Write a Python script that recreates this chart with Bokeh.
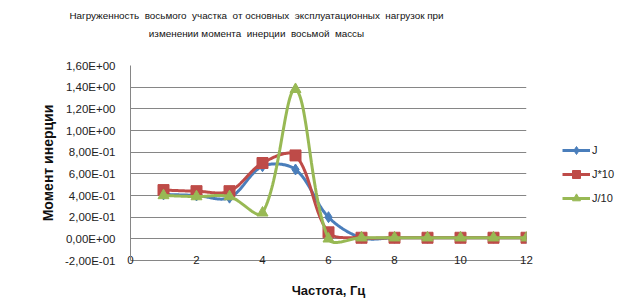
import numpy as np
from bokeh.plotting import figure
from bokeh.layouts import column, row
from bokeh.models import (Range1d, FixedTicker, CustomJSTickFormatter, Label, Legend, LegendItem)
from bokeh.embed import file_html
from bokeh.resources import INLINE

# ---- data ----
freq = [1, 2, 3, 4, 5, 6, 7, 8, 9, 10, 11, 12]
j_vals = [0.41, 0.40, 0.38, 0.67, 0.64, 0.20, 0.01, 0.01, 0.01, 0.01, 0.01, 0.01]
j10_vals = [0.45, 0.44, 0.44, 0.70, 0.77, 0.06, 0.01, 0.01, 0.01, 0.01, 0.01, 0.01]
jdiv10_vals = [0.40, 0.39, 0.39, 0.24, 1.38, 0.00, 0.01, 0.01, 0.01, 0.01, 0.01, 0.01]
series_names = ["J", "J*10", "J/10"]
x_ticks = [0, 2, 4, 6, 8, 10, 12]
y_ticks = [-0.2, 0.0, 0.2, 0.4, 0.6, 0.8, 1.0, 1.2, 1.4, 1.6]
title_lines = ["Нагруженность  восьмого  участка  от основных  эксплуатационных  нагрузок при",
               "изменении момента  инерции  восьмой  массы"]
x_label = "Частота, Гц"
y_label = "Момент инерции"

FONT = "Liberation Sans"
colors = ["#4A7EBB", "#BE4B48", "#98B954"]
markers = ["diamond", "square", "triangle"]
msizes = [11, 11, 11]
all_vals = [j_vals, j10_vals, jdiv10_vals]

W, H = 620, 305
TH = 42                      # height of the title strip
MW = 536                     # width of the main chart
L, R, T, B = 130, 10, 23, 45
fw, fh = MW - L - R, H - TH - T - B
xr = (0, 12)
yr = (-0.2, 1.6)
kx = fw / (xr[1] - xr[0])
ky = fh / (yr[1] - yr[0])


def smooth(xs, ys, n=40):
    """Excel-like smoothed line: cubic Bezier through points, tangent length
    proportional to adjacent segment lengths (measured on screen)."""
    P = np.column_stack([np.asarray(xs, float), np.asarray(ys, float)])
    S = P * np.array([kx, ky])
    m = len(P)
    out_x, out_y = [], []
    for i in range(m - 1):
        p0 = P[max(i - 1, 0)]; p1 = P[i]; p2 = P[i + 1]; p3 = P[min(i + 2, m - 1)]
        s0 = S[max(i - 1, 0)]; s1 = S[i]; s2 = S[i + 1]; s3 = S[min(i + 2, m - 1)]
        d01 = np.linalg.norm(s1 - s0); d12 = np.linalg.norm(s2 - s1); d23 = np.linalg.norm(s3 - s2)
        f1 = d12 / (d01 + d12) / 3 if d01 + d12 > 0 else 1 / 6
        f2 = d12 / (d12 + d23) / 3 if d12 + d23 > 0 else 1 / 6
        c1 = p1 + (p2 - p0) * f1
        c2 = p2 - (p3 - p1) * f2
        t = np.linspace(0, 1, n)[:, None]
        pts = (1 - t) ** 3 * p1 + 3 * (1 - t) ** 2 * t * c1 + 3 * (1 - t) * t ** 2 * c2 + t ** 3 * p2
        if i > 0:
            pts = pts[1:]
        out_x.extend(pts[:, 0]); out_y.extend(pts[:, 1])
    return out_x, out_y


def blank_fig(w, h, xrange=(0, 1), yrange=(0, 1)):
    f = figure(width=w, height=h, output_backend="svg", toolbar_location=None,
               x_axis_type=None, y_axis_type=None,
               x_range=Range1d(*xrange), y_range=Range1d(*yrange), min_border=0)
    f.outline_line_color = None
    f.background_fill_color = "white"
    f.border_fill_color = "white"
    return f


# ---- title strip ----
tf = blank_fig(W, TH)
for i, line in enumerate(title_lines):
    tf.add_layout(Label(x=256, y=TH - 15 - 18 * i, x_units="screen", y_units="screen",
                        text=line.replace("  ", "\u00a0 "), text_align="center",
                        text_baseline="middle", text_font=FONT, text_font_size="9.9px",
                        text_color="#111111"))

# ---- main chart ----
p = figure(width=MW, height=H - TH, output_backend="svg", toolbar_location=None,
           x_range=Range1d(*xr), y_range=Range1d(*yr),
           min_border_left=L, min_border_right=R, min_border_top=T, min_border_bottom=B)
p.outline_line_color = None
p.background_fill_color = "white"
p.border_fill_color = "white"
p.xgrid.grid_line_color = None
p.ygrid.grid_line_color = "#868686"
p.ygrid.grid_line_width = 1

p.xaxis.ticker = FixedTicker(ticks=x_ticks)
p.yaxis.ticker = FixedTicker(ticks=y_ticks)
p.yaxis.formatter = CustomJSTickFormatter(code="""
const s = tick.toExponential(2).replace('.', ',');
return s.replace(/e([+-])(\\d+)$/, (m, sg, d) => 'E' + sg + (d.length < 2 ? '0' + d : d));
""")
for ax in (p.xaxis, p.yaxis):
    ax.axis_line_color = "#868686"
    ax.major_tick_line_color = None
    ax.minor_tick_line_color = None
    ax.major_label_text_font = FONT
    ax.major_label_text_font_size = "11.5px"
    ax.major_label_text_color = "#222222"
    ax.axis_label_text_font = FONT
    ax.axis_label_text_font_style = "bold"
    ax.axis_label_text_color = "#111111"
p.yaxis.major_label_standoff = 9
p.xaxis.major_label_standoff = -11
p.yaxis.axis_label = y_label
p.yaxis.axis_label_text_font_size = "14px"
p.yaxis.axis_label_standoff = 6
p.xaxis.axis_label = x_label
p.xaxis.axis_label_text_font_size = "13px"
p.xaxis.axis_label_standoff = 16

for vals, c, mk, ms in zip(all_vals, colors, markers, msizes):
    sx, sy = smooth(freq, vals)
    p.line(sx, sy, line_color=c, line_width=3)
    p.scatter(freq, vals, marker=mk, size=ms, fill_color=c, line_color=c)

# ---- legend strip (series drawn out of view; only their legend keys show) ----
lf = blank_fig(W - MW, H - TH, xrange=(100, 101), yrange=(100, 101))
items = []
for name, vals, c, mk, ms in zip(series_names, all_vals, colors, markers, msizes):
    ln = lf.line(freq, vals, line_color=c, line_width=3)
    sc = lf.scatter(freq, vals, marker=mk, size=ms - 2, fill_color=c, line_color=c)
    items.append(LegendItem(label=name, renderers=[ln, sc]))
legend = Legend(items=items, location=(26, 52), orientation="vertical",
                padding=0, margin=0, spacing=4, glyph_width=28, glyph_height=20,
                label_height=20, label_standoff=2, label_text_font=FONT,
                label_text_font_size="11px", label_text_color="#222222",
                border_line_color=None, background_fill_alpha=0)
lf.add_layout(legend, "center")

layout = column(tf, row(p, lf, spacing=0), spacing=0)
open("out.html", "w").write(file_html(layout, INLINE))
